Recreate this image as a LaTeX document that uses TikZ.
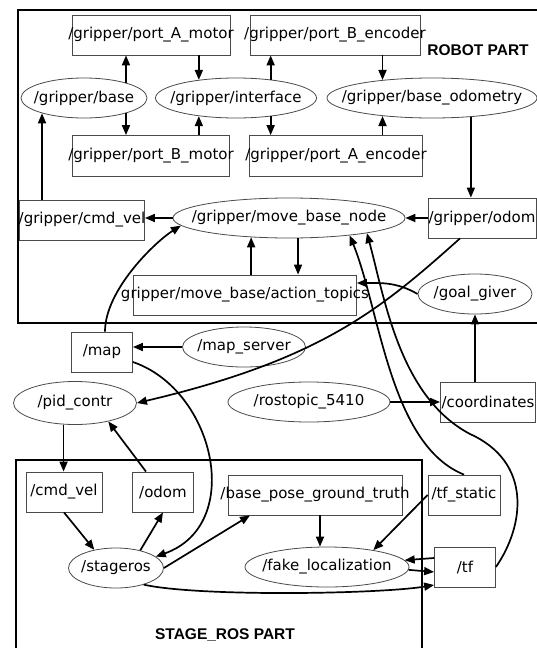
\documentclass[tikz,border=0pt]{standalone}
\usepackage{fontspec}
\setmainfont{DejaVu Sans}
\newfontfamily\partfont{Liberation Sans}
\usetikzlibrary{arrows.meta,shapes.geometric}
\definecolor{ink}{HTML}{000000}
\definecolor{linegray}{HTML}{4A4A4A}
\tikzset{
  >={Triangle[length=10pt,width=8pt]},
  overtext/.style={execute at begin node={\hbox to 0pt\bgroup\hss},execute at end node={\hss\egroup}},
  topic/.style={overtext,rectangle,draw=linegray,line width=.8pt,minimum height=40pt,inner sep=0pt,font=\fontsize{15}{18}\selectfont},
  rosnode/.style={overtext,ellipse,draw=linegray,line width=.8pt,minimum height=40pt,inner sep=0pt,font=\fontsize{15}{18}\selectfont},
  flow/.style={->,line width=1.7pt,color=ink},
  frame/.style={line width=2.6pt,color=ink},
  partlabel/.style={font=\fontsize{15.5}{18}\partfont\bfseries},
}

\begin{document}
\begin{tikzpicture}[x=1pt,y=1pt]
  \useasboundingbox (0,0) rectangle (537,-648);
  % part frames
  \draw[frame] (537,-10) -- (18,-10) -- (18,-323) -- (537,-323);
  \draw[frame] (16,-648) -- (16,-460) -- (422,-460) -- (422,-648);
  \node[partlabel] (robotlbl) at (478,-50) {ROBOT PART};
  \node[partlabel] (stagelbl) at (225,-635) {STAGE\_ROS PART};
  % robot part
  \node[topic,minimum width=158pt] (pam) at (151,-35) {/gripper/port\_A\_motor};
  \node[topic,minimum width=170pt] (pbe) at (335,-35) {/gripper/port\_B\_encoder};
  \node[rosnode,minimum width=126pt] (base) at (84,-98) {/gripper/base};
  \node[rosnode,minimum width=161pt] (iface) at (236,-98) {/gripper/interface};
  \node[rosnode,minimum width=210pt] (bodo) at (432,-98) {/gripper/base\_odometry};
  \node[topic,minimum width=157pt,minimum height=41pt] (pbm) at (151,-156) {/gripper/port\_B\_motor};
  \node[topic,minimum width=173pt,minimum height=41pt] (pae) at (336,-156) {/gripper/port\_A\_encoder};
  \node[topic,minimum width=125pt] (gcmd) at (82,-220) {/gripper/cmd\_vel};
  \node[rosnode,minimum width=232pt] (mbn) at (289,-218) {/gripper/move\_base\_node};
  \node[topic,minimum width=108pt] (godom) at (482,-218) {/gripper/odom};
  \node[topic,minimum width=223pt] (act) at (245,-295) {gripper/move\_base/action\_topics};
  \node[rosnode,minimum width=114pt] (goal) at (475,-294) {/goal\_giver};
  % between the parts
  \node[topic,minimum width=61pt] (map) at (102,-352) {/map};
  \node[rosnode,minimum width=123pt] (mapsrv) at (244,-347) {/map\_server};
  \node[rosnode,minimum width=123pt,minimum height=43pt] (pid) at (75,-403) {/pid\_contr};
  \node[rosnode,minimum width=162pt] (rostopic) at (309,-402) {/rostopic\_5410};
  \node[topic,minimum width=95pt] (coord) at (488,-402) {/coordinates};
  % stage_ros part
  \node[topic,minimum width=76pt] (cmdvel) at (64,-492) {/cmd\_vel};
  \node[topic,minimum width=61pt] (odom) at (163,-492) {/odom};
  \node[topic,minimum width=174pt] (bpgt) at (315,-495) {/base\_pose\_ground\_truth};
  \node[topic,minimum width=72pt] (tfs) at (464,-495) {/tf\_static};
  \node[rosnode,minimum width=95pt] (stageros) at (116,-568) {/stageros};
  \node[rosnode,minimum width=164pt] (fake) at (327,-567) {/fake\_localization};
  \node[topic,minimum width=61pt] (tf) at (465,-567) {/tf};

  \draw[flow] (base.20) -- (base.20 |- pam.south);
  \draw[flow] (base.-20) -- (base.-20 |- pbm.north);
  \draw[flow] (iface.154 |- pam.south) -- (iface.154);
  \draw[flow] (iface.206 |- pbm.north) -- (iface.206);
  \draw[flow] (iface.28) -- (iface.28 |- pbe.south);
  \draw[flow] (iface.-28) -- (iface.-28 |- pae.north);
  \draw[flow] (bodo.160 |- pbe.south) -- (bodo.160);
  \draw[flow] (bodo.200 |- pae.north) -- (bodo.200);
  \draw[flow] (bodo.-26) -- (bodo.-26 |- godom.north);
  \draw[flow] (base.200 |- gcmd.north) -- (base.200);
  \draw[flow] (mbn.west) -- (mbn.west -| gcmd.east);
  \draw[flow] (godom.west) -- (godom.west -| mbn.east);
  \draw[flow] (mbn.-66) -- (mbn.-66 |- act.north);
  \draw[flow] (mbn.207 |- act.north) -- (mbn.207);
  \draw[flow] (goal.west) to[out=150,in=0] ([yshift=12pt]act.east);
  \draw[flow] (goal.south |- coord.north) -- (goal.south);
  \draw[flow] (rostopic.east) -- (rostopic.east -| coord.west);
  \draw[flow] (mapsrv.west) -- (mapsrv.west -| map.east);
  \draw[flow] ([xshift=3pt]map.north) .. controls (105,-290) and (155,-242) .. (mbn.184);
  \draw[flow] ([yshift=-10pt]map.east) .. controls (215,-390) and (245,-525) .. (stageros.16);
  \draw[flow] ([xshift=-22pt]godom.south) .. controls (380,-310) and (320,-360) .. (pid.east);
  \draw[flow] (pid.242) -- (pid.242 |- cmdvel.north);
  \draw[flow] ([xshift=-17pt]odom.north) -- (pid.-29);
  \draw[flow] (cmdvel.south) -- (stageros.140);
  \draw[flow] (stageros.36) -- (odom.south);
  \draw[flow] (stageros.east) -- ([xshift=-65pt]bpgt.south);
  \draw[flow] ([xshift=5pt]bpgt.south) -- ([xshift=5pt]bpgt.south |- fake.north);
  \draw[flow] (tfs.west) -- (fake.20);
  \draw[flow] ([yshift=9pt]tf.west) -- (fake.5);
  \draw[flow] (fake.-2) -- ([yshift=-5pt]tf.west);
  \draw[flow] (stageros.-31) .. controls (200,-597) and (380,-594) .. ([yshift=-18pt]tf.west);
  \draw[flow] (tfs.north) .. controls (390,-445) and (380,-310) .. (mbn.-16);
  \draw[flow] (tf.east) .. controls (525,-525) and (532,-462) .. (470,-434)
    .. controls (400,-397) and (385,-300) .. (mbn.-11);
\end{tikzpicture}
\end{document}
